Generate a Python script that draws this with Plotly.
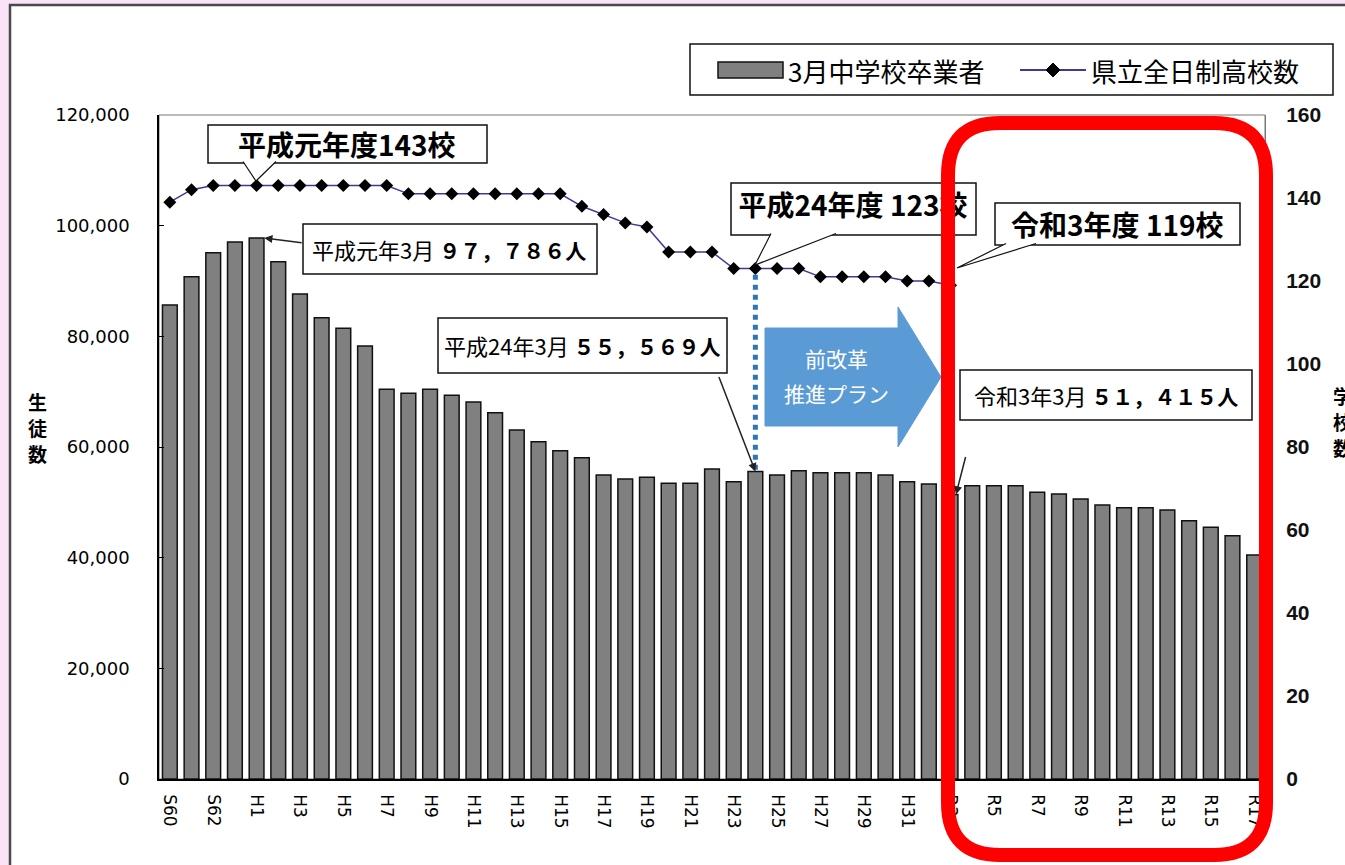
import plotly.graph_objects as go

# ---------------- data ----------------
categories = ["S60", "S61", "S62", "S63",
              "H1", "H2", "H3", "H4", "H5", "H6", "H7", "H8", "H9", "H10",
              "H11", "H12", "H13", "H14", "H15", "H16", "H17", "H18", "H19", "H20",
              "H21", "H22", "H23", "H24", "H25", "H26", "H27", "H28", "H29", "H30", "H31",
              "R2", "R3", "R4", "R5", "R6", "R7", "R8", "R9", "R10",
              "R11", "R12", "R13", "R14", "R15", "R16", "R17"]

graduates = [85650, 90770, 95100, 97030,
             97786, 93480, 87640, 83360, 81440, 78240, 70420, 69700, 70420, 69330,
             68120, 66190, 63060, 60950, 59320, 58060, 54930, 54210, 54520, 53430,
             53430, 56020, 53720, 55569, 54930, 55710, 55350, 55350, 55350, 54930, 53720,
             53310, 51415, 53000, 53000, 53000, 51810, 51500, 50600, 49510,
             49020, 49020, 48610, 46680, 45480, 43960, 40480]

schools = [139, 142, 143, 143,
           143, 143, 143, 143, 143, 143, 143, 141, 141, 141,
           141, 141, 141, 141, 141, 138, 136, 134, 133, 127,
           127, 127, 123, 123, 123, 123, 121, 121, 121, 121, 120,
           120, 119]

tick_labels = categories[::2]

bar_name = "3月中学校卒業者"
line_name = "県立全日制高校数"

# ---------------- geometry helpers ----------------
W, H = 1345, 865
ML, MR, MT, MB = 159, 80, 115, 86
PW, PH = W - ML - MR, H - MT - MB
N = len(categories)


def X(px):
    return (px - ML) / PW


def Y(py):
    return (H - MB - py) / PH


def DX(px):
    return (px - ML) / (PW / N) - 0.5


def DY(py):
    return (H - MB - py) / PH * 120000


JP = "Noto Sans CJK JP"
xs = list(range(N))

fig = go.Figure()
fig.add_trace(go.Bar(
    x=xs, y=graduates, name=bar_name, width=0.68,
    marker=dict(color="#808080", line=dict(color="#111111", width=1.5)),
    showlegend=False, yaxis="y"))
fig.add_trace(go.Scatter(
    x=xs[:len(schools)], y=schools, name=line_name, mode="lines+markers",
    line=dict(color="#3b3b9e", width=1.5),
    marker=dict(symbol="diamond", size=10, color="black"),
    showlegend=False, yaxis="y2"))

# text of the 平成24年度 box drawn as trace so the red frame can cover it
fig.add_trace(go.Scatter(
    x=[DX(853)], y=[DY(209)], mode="text", text=["平成24年度 123校"],
    textfont=dict(family=JP, size=28, color="black", weight="bold"),
    textposition="middle center", hoverinfo="skip", showlegend=False, yaxis="y"))

shapes = []
annotations = []

# white inner panel
shapes.append(dict(type="rect", xref="paper", yref="paper", layer="below",
                   x0=X(10), x1=X(1400), y0=Y(5), y1=Y(920),
                   fillcolor="white", line=dict(color="#4a4a4a", width=2.5)))
# plot frame
shapes.append(dict(type="rect", xref="paper", yref="paper", layer="below",
                   x0=0, x1=1, y0=0, y1=1, line=dict(color="#777777", width=1)))


def box(x0, y0, x1, y1, layer="below"):
    shapes.append(dict(type="rect", xref="paper", yref="paper", layer=layer,
                       x0=X(x0), x1=X(x1), y0=Y(y0), y1=Y(y1),
                       fillcolor="white", line=dict(color="#111111", width=1.5)))


def tail(pts):
    p = "M " + " L ".join(f"{X(a)},{Y(b)}" for a, b in pts)
    shapes.append(dict(type="path", xref="paper", yref="paper", layer="above",
                       path=p, fillcolor="white", line=dict(color="#111111", width=1.2)))


def text(px, py, t, size, bold=False, color="black", xanchor="center"):
    annotations.append(dict(xref="paper", yref="paper", x=X(px), y=Y(py), text=t,
                            showarrow=False, xanchor=xanchor, yanchor="middle",
                            font=dict(family=JP, size=size, color=color,
                                      weight="bold" if bold else "normal")))


# Box A
box(208, 125, 487, 163)
tail([(243, 161.5), (256, 181), (276, 161.5)])
text(347, 144, "平成元年度143校", 28, bold=True)

# Box B
box(303, 224, 597, 274)
text(449, 249, "平成元年3月 <b><span style='font-size:21px'>９７，７８６人</span></b>", 22)
annotations.append(dict(x=4.35, y=97786, xref="x", yref="y", text="", showarrow=True,
                        ax=303 - 264, ay=242 - 237, arrowhead=2, arrowsize=1.1,
                        arrowwidth=1.5, arrowcolor="#222222", standoff=0))

# Box C
box(438, 318, 727, 373)
text(582, 345, "平成24年3月 <b><span style='font-size:21px'>５５，５６９人</span></b>", 22)
annotations.append(dict(x=27, y=55569, xref="x", yref="y", text="", showarrow=True,
                        ax=717 - 754, ay=373 - 469, arrowhead=2, arrowsize=1.1,
                        arrowwidth=1.5, arrowcolor="#222222", standoff=0))

# Box D
box(731, 183, 976, 235)
tail([(771, 233.5), (755, 265), (836, 233.5)])

# Box E
box(995, 203, 1240, 245)
tail([(1006, 243.5), (957, 268), (1036, 243.5)])
text(1117, 224, "令和3年度 119校", 28, bold=True)

# Box F
box(960, 370, 1252, 420)
text(1106, 395, "令和3年3月 <b><span style='font-size:21px'>５１，４１５人</span></b>", 22)
annotations.append(dict(x=36.25, y=51415, xref="x", yref="y", text="", showarrow=True,
                        ax=966 - 956, ay=440 - 479, arrowhead=2, arrowsize=1.1,
                        arrowwidth=1.5, arrowcolor="#222222", standoff=0))

# dotted vertical line at H24
shapes.append(dict(type="line", xref="x", yref="y2", layer="above",
                   x0=27, x1=27, y0=121.5, y1=74,
                   line=dict(color="#2e75b6", width=5, dash="dot")))

# blue block arrow
arrow_pts = [(765, 328), (898, 328), (898, 307), (941, 377), (898, 447), (898, 426), (765, 426)]
shapes.append(dict(type="path", xref="paper", yref="paper", layer="above",
                   path="M " + " L ".join(f"{X(a)},{Y(b)}" for a, b in arrow_pts) + " Z",
                   fillcolor="#5b9bd5", line=dict(color="#5b9bd5", width=1)))
text(836, 358, "前改革", 21, color="white")
text(836, 393, "推進プラン", 21, color="white")

# red rounded frame
x0, x1, y0, y1, r = 948, 1266, 123, 855, 52
rp = (f"M {X(x0 + r)},{Y(y0)} L {X(x1 - r)},{Y(y0)} Q {X(x1)},{Y(y0)} {X(x1)},{Y(y0 + r)} "
      f"L {X(x1)},{Y(y1 - r)} Q {X(x1)},{Y(y1)} {X(x1 - r)},{Y(y1)} "
      f"L {X(x0 + r)},{Y(y1)} Q {X(x0)},{Y(y1)} {X(x0)},{Y(y1 - r)} "
      f"L {X(x0)},{Y(y0 + r)} Q {X(x0)},{Y(y0)} {X(x0 + r)},{Y(y0)} Z")
shapes.append(dict(type="path", xref="paper", yref="paper", layer="above",
                   path=rp, line=dict(color="#ff0000", width=14)))

# manual legend
shapes.append(dict(type="rect", xref="paper", yref="paper", layer="above",
                   x0=X(690), x1=X(1333), y0=Y(44), y1=Y(95),
                   fillcolor="white", line=dict(color="#111111", width=1.5)))
shapes.append(dict(type="rect", xref="paper", yref="paper", layer="above",
                   x0=X(718), x1=X(783), y0=Y(62), y1=Y(78),
                   fillcolor="#808080", line=dict(color="#111111", width=1.5)))
shapes.append(dict(type="line", xref="paper", yref="paper", layer="above",
                   x0=X(1020), x1=X(1086), y0=Y(70), y1=Y(70),
                   line=dict(color="#3b3b9e", width=2)))
dm = [(1053, 63), (1060, 70), (1053, 77), (1046, 70)]
shapes.append(dict(type="path", xref="paper", yref="paper", layer="above",
                   path="M " + " L ".join(f"{X(a)},{Y(b)}" for a, b in dm) + " Z",
                   fillcolor="black", line=dict(color="black", width=1)))
text(786, 70, bar_name, 26, xanchor="left")
text(1089, 70, line_name, 26, xanchor="left")

# axis titles (stacked vertical characters)
for i, ch in enumerate("生徒数"):
    text(37, 401 + i * 26, ch, 19, bold=True)
for i, ch in enumerate("学校数"):
    text(1331, 395 + i * 26, ch, 19, bold=True, xanchor="left")

fig.update_layout(
    width=W, height=H, autosize=False,
    margin=dict(l=ML, r=MR, t=MT, b=MB, pad=0),
    paper_bgcolor="#fbe3f7", plot_bgcolor="rgba(0,0,0,0)",
    showlegend=False,
    xaxis=dict(range=[-0.5, N - 0.5], tickmode="array",
               tickvals=xs[::2], ticktext=tick_labels, tickangle=90,
               tickfont=dict(family="DejaVu Sans", size=17, color="black"),
               showline=True, linecolor="black", linewidth=1.5, ticks="",
               ticklabelstandoff=10, showgrid=False, zeroline=False, fixedrange=True),
    yaxis=dict(range=[0, 120000], tickmode="array",
               tickvals=[0, 20000, 40000, 60000, 80000, 100000, 120000],
               tickformat=",d", ticks="inside", ticklen=5, tickcolor="black",
               showline=True, linecolor="black", linewidth=1.5, showgrid=False,
               zeroline=False, ticklabelstandoff=24,
               tickfont=dict(family="DejaVu Sans", size=18, color="black")),
    yaxis2=dict(range=[0, 160], overlaying="y", side="right", dtick=20,
                showgrid=False, zeroline=False, showline=True, linecolor="#777777",
                linewidth=1, ticks="", ticklabelstandoff=16,
                tickfont=dict(family="Liberation Sans", size=21, color="#111111",
                              weight="bold")),
    shapes=shapes, annotations=annotations,
)

fig.write_html(
    "out.html",
    config={"displayModeBar": False},
    post_script="document.body.style.margin='0';document.body.style.overflow='hidden';"
                "document.documentElement.style.overflow='hidden';",
)
